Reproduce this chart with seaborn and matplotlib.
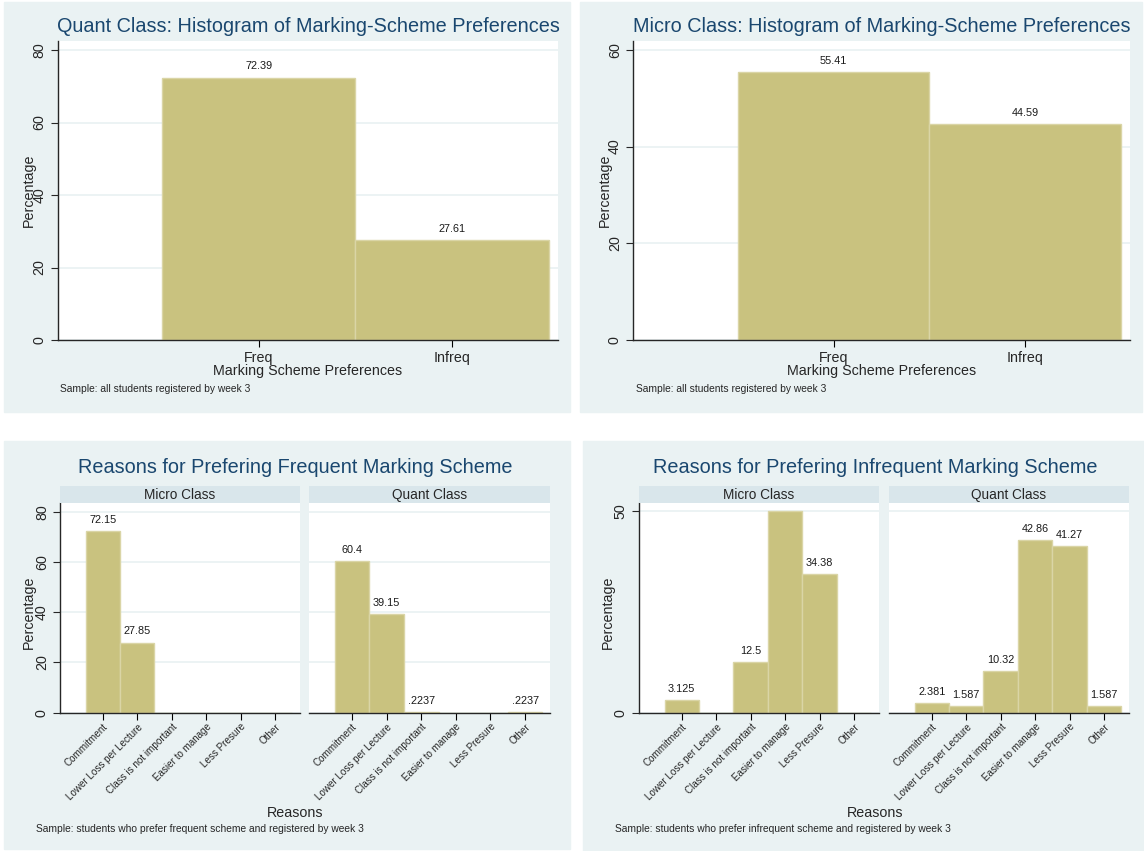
import numpy as np
import pandas as pd
import seaborn as sns
import matplotlib.pyplot as plt
from matplotlib.patches import Rectangle

# data
schemes = ['Freq', 'Infreq']
quant_pref = [72.39, 27.61]
micro_pref = [55.41, 44.59]

reasons = ['Commitment', 'Lower Loss per Lecture', 'Class is not important',
           'Easier to manage', 'Less Presure', 'Other']
freq_micro = [72.15, 27.85, 0, 0, 0, 0]
freq_quant = [60.4, 39.15, 0.2237, 0, 0, 0.2237]
infreq_micro = [3.125, 0, 12.5, 50, 34.38, 0]
infreq_quant = [2.381, 1.587, 10.32, 42.86, 41.27, 1.587]

#
# style
#
sns.set_style('white')
plt.rcParams['font.family'] = ['Liberation Sans', 'DejaVu Sans']

W, H = 1144, 851
BG = '#EAF2F3'
STRIP = '#D9E6EB'
GRID = '#EAF2F3'
BAR = '#C9C27F'
BAR_EDGE = '#DAD5A6'
TITLE = '#1A476F'

fig = plt.figure(figsize=(W / 100, H / 100), dpi=100, facecolor='white')


def px_axes(x0, y0, x1, y1):
    return fig.add_axes([x0 / W, 1 - y1 / H, (x1 - x0) / W, (y1 - y0) / H])


def panel(x0, y0, x1, y1):
    fig.add_artist(Rectangle((x0 / W, 1 - y1 / H), (x1 - x0) / W, (y1 - y0) / H,
                             transform=fig.transFigure, color=BG, zorder=-10))


def fig_text(x, y, s, **kw):
    fig.text(x / W, 1 - y / H, s, **kw)


def stata_fmt(v):
    if v == 0:
        return ''
    s = f'{v:.4g}'
    if s.startswith('0.'):
        s = s[1:]
    return s


def bars(ax, cats, vals, ymax, yticks, xlim, left=True, label_size=7.8,
         tick_size=10.3, rot=0):
    df = pd.DataFrame({'cat': cats, 'val': vals})
    sns.barplot(data=df, x='cat', y='val', ax=ax, color=BAR, saturation=1,
                width=1, edgecolor=BAR_EDGE, linewidth=1, order=cats)
    ax.bar_label(ax.containers[0], labels=[stata_fmt(v) for v in vals],
                 padding=4.5, fontsize=label_size, color='#1a1a1a')
    ax.set_facecolor('white')
    ax.set_ylim(0, ymax)
    ax.set_xlim(*xlim)
    ax.set_yticks(yticks)
    ax.grid(axis='y', color=GRID, lw=1.3)
    ax.set_axisbelow(True)
    ax.set_xlabel('')
    ax.set_ylabel('')
    for side in ['top', 'right']:
        ax.spines[side].set_visible(False)
    ax.spines['bottom'].set_linewidth(1)
    ax.spines['left'].set_linewidth(1)
    ax.tick_params(axis='x', length=5, width=0.8, color='black', direction='out',
                   bottom=True, pad=1.5 if rot else 3)
    if rot:
        ax.set_xticks(range(len(cats)))
        ax.set_xticklabels(cats, rotation=rot, ha='right', va='top',
                           rotation_mode='anchor', fontsize=7.1)
    else:
        ax.tick_params(axis='x', labelsize=tick_size)
    if left:
        ax.tick_params(axis='y', length=5, width=0.8, direction='out', left=True,
                       labelrotation=90, labelsize=tick_size, pad=3)
        for t in ax.get_yticklabels():
            t.set_va('center')
    else:
        ax.spines['left'].set_visible(False)
        ax.tick_params(axis='y', left=False, labelleft=False)


def strip(x0, x1, y0, y1, label):
    sax = px_axes(x0, y0, x1, y1)
    sax.set_facecolor(STRIP)
    sax.set_xticks([])
    sax.set_yticks([])
    for s in sax.spines.values():
        s.set_visible(False)
    sax.text(0.5, 0.5, label, ha='center', va='center', fontsize=9.8,
             transform=sax.transAxes)


#
# panel backgrounds
#
panel(4, 2, 570, 412)
panel(580, 2, 1142, 412)
panel(4, 441, 570, 849)
panel(583, 441, 1144, 851)

#
# top left: quant class
#
ax = px_axes(57.6, 40.7, 557.6, 340)
bars(ax, schemes, quant_pref, 82.57, [0, 20, 40, 60, 80], (-1.043, 1.547))
fig_text(308, 27, 'Quant Class: Histogram of Marking-Scheme Preferences',
         ha='center', va='center', fontsize=14.3, color=TITLE)
fig_text(29, 190, 'Percentage', rotation=90, ha='center', va='center', fontsize=10.3)
fig_text(308, 371, 'Marking Scheme Preferences', ha='center', va='center', fontsize=10.3)
fig_text(60.5, 389, 'Sample: all students registered by week 3', ha='left',
         va='center', fontsize=7.4)

#
# top right: micro class
#
ax = px_axes(633, 40.7, 1130, 340)
bars(ax, schemes, micro_pref, 61.9, [0, 20, 40, 60], (-1.049, 1.549))
fig_text(882, 27, 'Micro Class: Histogram of Marking-Scheme Preferences',
         ha='center', va='center', fontsize=14.3, color=TITLE)
fig_text(605, 190, 'Percentage', rotation=90, ha='center', va='center', fontsize=10.3)
fig_text(882, 371, 'Marking Scheme Preferences', ha='center', va='center', fontsize=10.3)
fig_text(636, 389, 'Sample: all students registered by week 3', ha='left',
         va='center', fontsize=7.4)

#
# bottom left: reasons for frequent scheme
#
xl = (-1.24, 5.72)
ax = px_axes(60, 503.3, 300, 712.7)
bars(ax, reasons, freq_micro, 83.34, [0, 20, 40, 60, 80], xl, rot=45)
ax = px_axes(309, 503.3, 550, 712.7)
bars(ax, reasons, freq_quant, 83.34, [0, 20, 40, 60, 80], xl, left=False, rot=45)
strip(60, 300, 486, 503.3, 'Micro Class')
strip(309, 550, 486, 503.3, 'Quant Class')
fig_text(295, 467, 'Reasons for Prefering Frequent Marking Scheme',
         ha='center', va='center', fontsize=14.3, color=TITLE)
fig_text(29, 612, 'Percentage', rotation=90, ha='center', va='center', fontsize=10.3)
fig_text(295, 813, 'Reasons', ha='center', va='center', fontsize=10.3)
fig_text(36, 829, 'Sample: students who prefer frequent scheme and registered by week 3',
         ha='left', va='center', fontsize=7.4)

#
# bottom right: reasons for infrequent scheme
#
ax = px_axes(639, 503.3, 879, 712.7)
bars(ax, reasons, infreq_micro, 51.99, [0, 50], xl, rot=45)
ax = px_axes(889, 503.3, 1129, 712.7)
bars(ax, reasons, infreq_quant, 51.99, [0, 50], xl, left=False, rot=45)
strip(639, 879, 486, 503.3, 'Micro Class')
strip(889, 1129, 486, 503.3, 'Quant Class')
fig_text(875, 467, 'Reasons for Prefering Infrequent Marking Scheme',
         ha='center', va='center', fontsize=14.3, color=TITLE)
fig_text(608, 612, 'Percentage', rotation=90, ha='center', va='center', fontsize=10.3)
fig_text(875, 813, 'Reasons', ha='center', va='center', fontsize=10.3)
fig_text(615, 829, 'Sample: students who prefer infrequent scheme and registered by week 3',
         ha='left', va='center', fontsize=7.4)

plt.savefig('out.png', dpi=100, facecolor='white')
